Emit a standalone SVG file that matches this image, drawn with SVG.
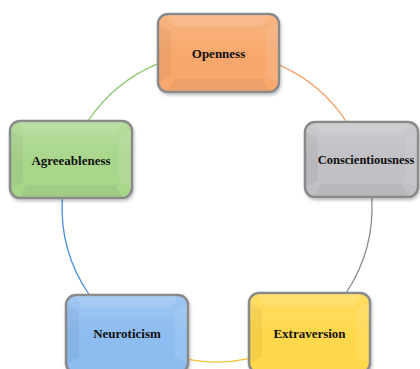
<svg xmlns="http://www.w3.org/2000/svg" width="420" height="369" viewBox="0 0 420 369">
<defs>
<filter id="sh" x="-10%" y="-10%" width="125%" height="130%">
<feDropShadow dx="1" dy="2" stdDeviation="1.5" flood-color="#000" flood-opacity="0.25"/>
</filter>
<linearGradient id="gl" x1="0" y1="0" x2="0" y2="1">
<stop offset="0" stop-color="#fff" stop-opacity="0.15"/>
<stop offset="1" stop-color="#fff" stop-opacity="0"/>
</linearGradient>
</defs>
<style>
.box{stroke:#8a8a8a;stroke-width:2.5;filter:url(#sh)}
.hl{fill:url(#gl)}
.bl{fill:#000;opacity:0.045}
.bt{fill:#fff;opacity:0.09}
.lbl{font-family:"Liberation Serif","Times New Roman",serif;font-weight:bold;font-size:13px;fill:#111;text-anchor:middle;dominant-baseline:central}
.arc{fill:none;stroke-width:1.3}
</style>
<g id="connectors">
<path class="arc" stroke="#8ec46c" d="M157,64.1 A155,155 0 0 0 88,121"/>
<path class="arc" stroke="#f2a066" d="M279,64.9 A155,155 0 0 1 346.6,122"/>
<path class="arc" stroke="#8c8c90" d="M371.7,197 A155,155 0 0 1 346,293"/>
<path class="arc" stroke="#f5c030" d="M249,358.7 A155,155 0 0 1 188,359.3"/>
<path class="arc" stroke="#4a8fe0" d="M62.3,198 A155,155 0 0 0 89.4,295"/>
</g>
<g id="openness">
<rect class="box" x="158" y="14" width="121" height="78" rx="10" fill="#f8a86c"/>
<polygon class="bl" points="159,24 171,30 171,76 159,82"/>
<polygon class="bt" points="168,15 269,15 263,27 174,27"/>
<polygon class="bt" points="278,24 278,82 266,76 266,30"/>
<polygon class="bl" points="168,91 269,91 263,79 174,79"/>
<rect class="hl" x="159" y="15" width="119" height="40" rx="9"/>
<text class="lbl" x="218.5" y="53">Openness</text>
</g>
<g id="conscientiousness">
<rect class="box" x="305" y="122" width="113" height="75" rx="10" fill="#c1c1c5"/>
<polygon class="bl" points="306,132 318,138 318,181 306,187"/>
<polygon class="bt" points="315,123 408,123 402,135 321,135"/>
<polygon class="bt" points="417,132 417,187 405,181 405,138"/>
<polygon class="bl" points="315,196 408,196 402,184 321,184"/>
<rect class="hl" x="306" y="123" width="111" height="38" rx="9"/>
<text class="lbl" x="366" y="160" style="font-size:12.5px">Conscientiousness</text>
</g>
<g id="agreeableness">
<rect class="box" x="10" y="121" width="122" height="77" rx="10" fill="#a9d68b"/>
<polygon class="bl" points="11,131 23,137 23,182 11,188"/>
<polygon class="bt" points="20,122 122,122 116,134 26,134"/>
<polygon class="bt" points="131,131 131,188 119,182 119,137"/>
<polygon class="bl" points="20,197 122,197 116,185 26,185"/>
<rect class="hl" x="11" y="122" width="120" height="39" rx="9"/>
<text class="lbl" x="71" y="160">Agreeableness</text>
</g>
<g id="neuroticism">
<rect class="box" x="66" y="295" width="122" height="78" rx="10" fill="#8dbcf0"/>
<polygon class="bl" points="67,305 79,311 79,357 67,363"/>
<polygon class="bt" points="76,296 178,296 172,308 82,308"/>
<polygon class="bt" points="187,305 187,363 175,357 175,311"/>
<rect class="hl" x="67" y="296" width="120" height="40" rx="9"/>
<text class="lbl" x="127" y="333">Neuroticism</text>
</g>
<g id="extraversion">
<rect class="box" x="249" y="293" width="121" height="80" rx="10" fill="#ffd84c"/>
<polygon class="bl" points="250,303 262,309 262,357 250,363"/>
<polygon class="bt" points="259,294 360,294 354,306 265,306"/>
<polygon class="bt" points="369,303 369,363 357,357 357,309"/>
<rect class="hl" x="250" y="294" width="119" height="40" rx="9"/>
<text class="lbl" x="309.5" y="333">Extraversion</text>
</g>
</svg>
